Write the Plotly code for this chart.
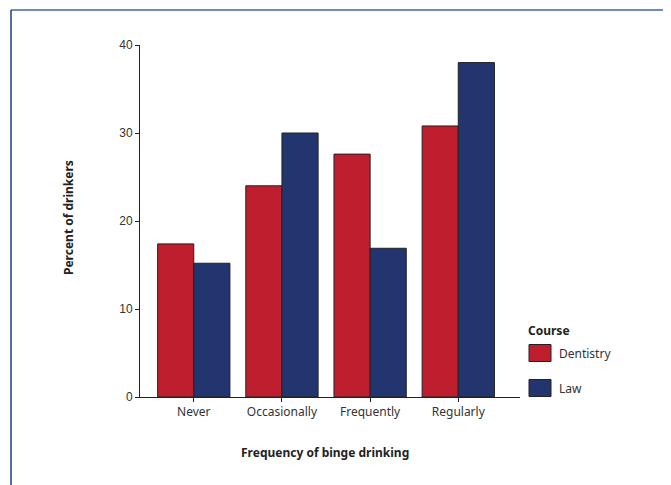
import plotly.graph_objects as go

categories = ["Never", "Occasionally", "Frequently", "Regularly"]
dentistry = [17.4, 24.0, 27.6, 30.8]
law = [15.2, 30.0, 16.9, 38.0]
y_ticks = [0, 10, 20, 30, 40]
series_names = ["Dentistry", "Law"]

RED = "#BE1E2D"
NAVY = "#22356E"
OUTLINE = "#222222"

fig = go.Figure()
fig.add_trace(go.Bar(x=categories, y=dentistry, name=series_names[0],
                     marker=dict(color=RED, line=dict(color=OUTLINE, width=1))))
fig.add_trace(go.Bar(x=categories, y=law, name=series_names[1],
                     marker=dict(color=NAVY, line=dict(color=OUTLINE, width=1))))

# window geometry (page body has an 8px margin)
OFF = 8
WIN_W, WIN_H = 671, 485
PL, PR, PT, PB = 140, 520, 45, 397  # plot area in window pixels


def px(x):
    return (x - PL) / (PR - PL)


def py(y):
    return (PB - y) / (PB - PT)


shapes = [
    dict(type="line", xref="paper", yref="paper", x0=px(11), x1=px(671), y0=py(10), y1=py(10),
         line=dict(color="#3A67AE", width=1.5)),
    dict(type="line", xref="paper", yref="paper", x0=px(11), x1=px(11), y0=py(10), y1=py(485),
         line=dict(color="#1F3A78", width=1.5)),
]
annotations = [
    dict(text="<b>Percent of drinkers</b>", xref="paper", yref="paper",
         x=px(68), y=py(218), textangle=-90, showarrow=False,
         font=dict(size=12, color="#222222"), xanchor="center", yanchor="middle"),
    dict(text="<b>Frequency of binge drinking</b>", xref="paper", yref="paper",
         x=px(325), y=py(452), showarrow=False,
         font=dict(size=12, color="#222222"), xanchor="center", yanchor="middle"),
    dict(text="<b>Course</b>", xref="paper", yref="paper",
         x=px(526), y=py(330), showarrow=False, xanchor="left", yanchor="middle",
         font=dict(size=12, color="#222222")),
]
legend_colors = [RED, NAVY]
legend_rows = [353, 388]
for name, col, yc in zip(series_names, legend_colors, legend_rows):
    shapes.append(dict(type="rect", xref="paper", yref="paper",
                       x0=px(529), x1=px(551), y0=py(yc - 8.5), y1=py(yc + 8.5),
                       fillcolor=col, line=dict(color=OUTLINE, width=1)))
    annotations.append(dict(text=name, xref="paper", yref="paper",
                            x=px(557), y=py(yc), showarrow=False,
                            xanchor="left", yanchor="middle",
                            font=dict(size=12, color="#333333")))

fig.update_layout(
    width=WIN_W - OFF, height=WIN_H - OFF,
    margin=dict(l=PL - OFF, r=WIN_W - PR, t=PT - OFF, b=WIN_H - PB, pad=0),
    paper_bgcolor="white", plot_bgcolor="white",
    barmode="group", bargap=0.18, bargroupgap=0,
    font=dict(family="Noto Sans, sans-serif", size=12, color="#333333"),
    showlegend=False,
    xaxis=dict(
        range=[-0.61, 3.70], showline=True, linecolor=OUTLINE, linewidth=1,
        ticks="outside", ticklen=4, tickcolor=OUTLINE,
        showgrid=False, zeroline=False,
        tickfont=dict(size=12, color="#333333"),
    ),
    yaxis=dict(
        range=[0, 40], tickvals=y_ticks, showline=True, linecolor=OUTLINE, linewidth=1,
        ticks="outside", ticklen=4, tickcolor=OUTLINE,
        showgrid=False, zeroline=False,
        tickfont=dict(family="Liberation Sans, Arial, sans-serif", size=12, color="#333333"),
    ),
    annotations=annotations,
    shapes=shapes,
)

fig.write_html("out.html")
